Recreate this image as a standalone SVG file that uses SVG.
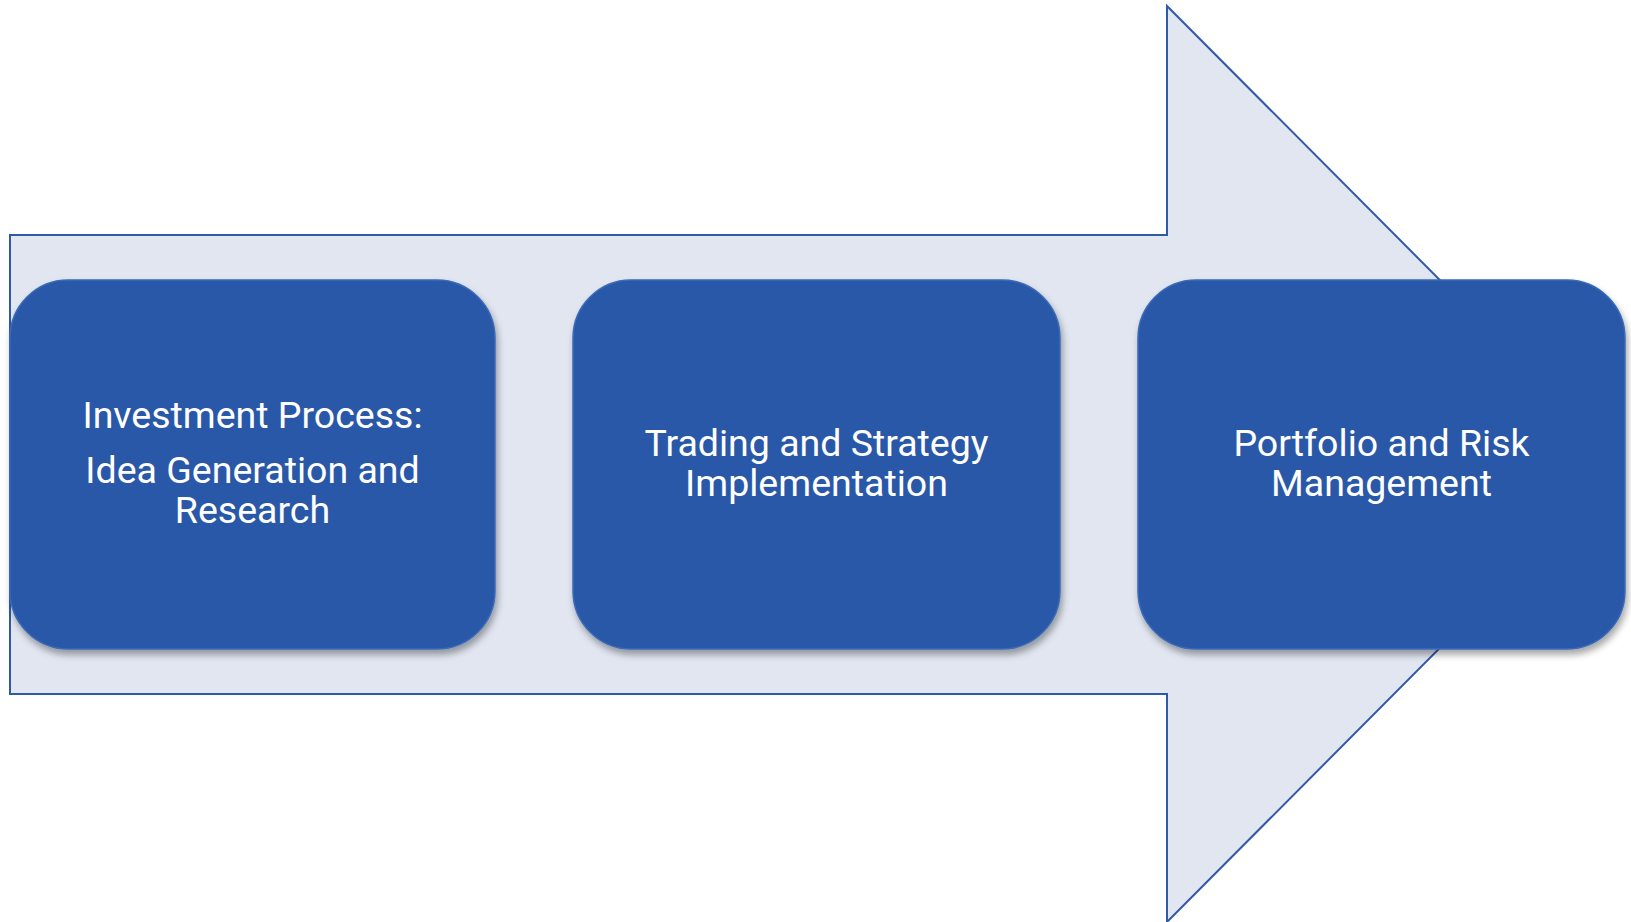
<svg xmlns="http://www.w3.org/2000/svg" width="1631" height="922" viewBox="0 0 1631 922">
<style>
.arrow{fill:#E1E6F1;stroke:#2F5AA6;stroke-width:2;stroke-linejoin:miter}
.box{fill:#2959A8;stroke:#3A6AB6;stroke-width:1.5;filter:url(#sh)}
.lbl{font-family:Roboto,"Liberation Sans",sans-serif;font-size:37.5px;fill:#FFFFFF;text-anchor:middle}
</style>
<defs>
<filter id="sh" x="-10%" y="-10%" width="125%" height="130%">
<feDropShadow dx="2" dy="5" stdDeviation="3.5" flood-color="#000" flood-opacity="0.35"/>
</filter>
</defs>
<g id="connectors">
<path class="arrow" d="M10,235 L1167,235 L1167,6 L1623,464 L1167,922 L1167,694 L10,694 Z"/>
</g>
<g id="node1">
<rect class="box" x="10" y="280" width="485" height="369" rx="58" ry="58"/>
<text class="lbl" x="252.5" y="427.5">Investment Process:</text>
<text class="lbl" x="252.5" y="482.5">Idea Generation and</text>
<text class="lbl" x="252.5" y="522.5">Research</text>
</g>
<g id="node2">
<rect class="box" x="573" y="280" width="487" height="369" rx="58" ry="58"/>
<text class="lbl" x="816.5" y="455.5">Trading and Strategy</text>
<text class="lbl" x="816.5" y="496">Implementation</text>
</g>
<g id="node3">
<rect class="box" x="1138" y="280" width="487" height="369" rx="58" ry="58"/>
<text class="lbl" x="1381.5" y="455.5">Portfolio and Risk</text>
<text class="lbl" x="1381.5" y="496">Management</text>
</g>
</svg>
